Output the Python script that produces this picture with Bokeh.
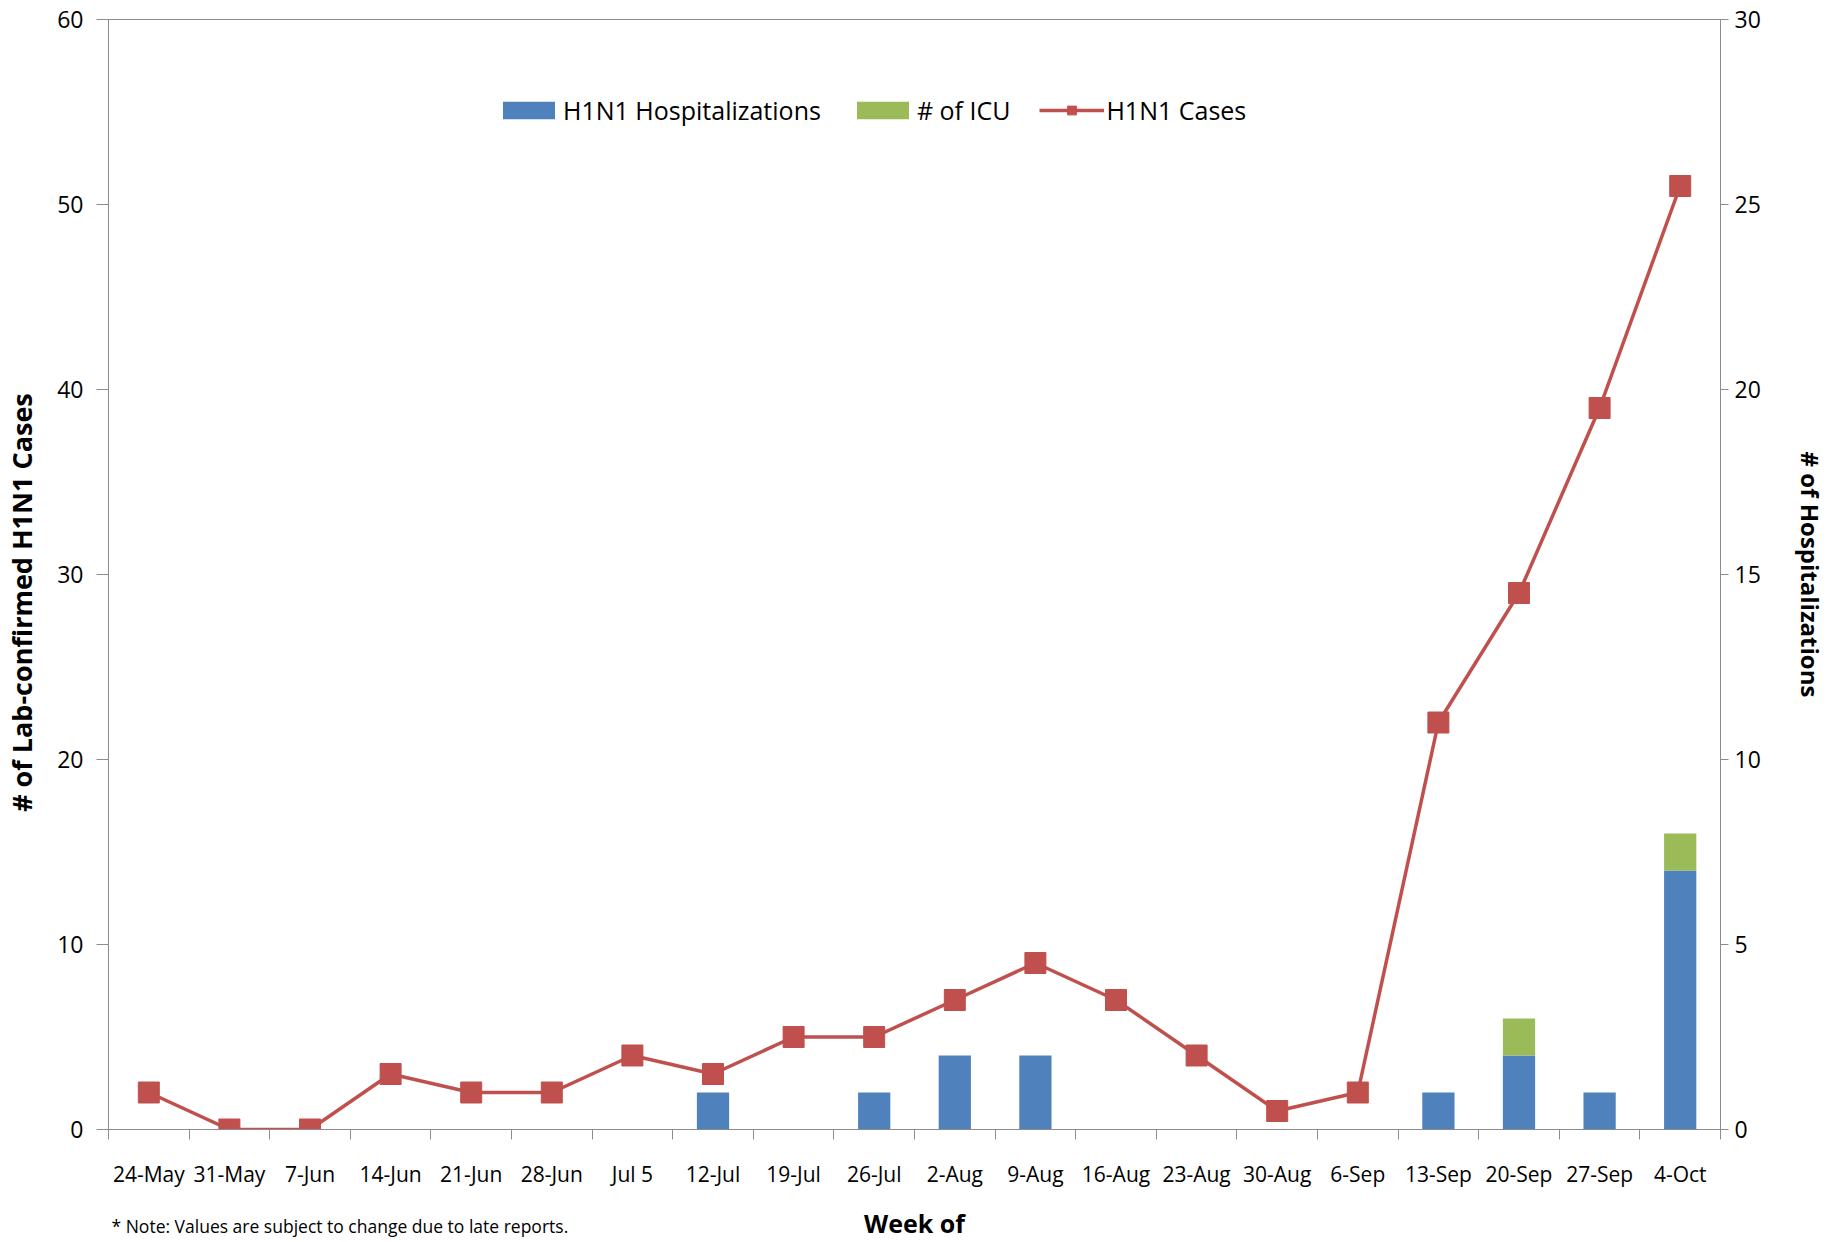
from bokeh.plotting import figure
from bokeh.models import (Range1d, LinearAxis, FixedTicker, Legend, LegendItem,
                          Title, ColumnDataSource)
from bokeh.embed import file_html
from bokeh.resources import INLINE

# ---- data ----
weeks = ["24-May", "31-May", "7-Jun", "14-Jun", "21-Jun", "28-Jun", "Jul 5",
         "12-Jul", "19-Jul", "26-Jul", "2-Aug", "9-Aug", "16-Aug", "23-Aug",
         "30-Aug", "6-Sep", "13-Sep", "20-Sep", "27-Sep", "4-Oct"]
cases = [2, 0, 0, 3, 2, 2, 4, 3, 5, 5, 7, 9, 7, 4, 1, 2, 22, 29, 39, 51]
hospitalizations = [0, 0, 0, 0, 0, 0, 0, 1, 0, 1, 2, 2, 0, 0, 0, 0, 1, 2, 1, 7]
icu = [0, 0, 0, 0, 0, 0, 0, 0, 0, 0, 0, 0, 0, 0, 0, 0, 0, 1, 0, 1]
left_ticks = [0, 10, 20, 30, 40, 50, 60]
right_ticks = [0, 5, 10, 15, 20, 25, 30]

FONT = "Open Sans"
GRAY = "#8c8c8c"
BLUE = "#4F81BD"
GREEN = "#9BBB59"
RED = "#C0504D"

xs = list(range(len(weeks)))
src = ColumnDataSource(dict(x=xs, week=weeks, cases=cases,
                            hosp=hospitalizations, icu=icu))

p = figure(width=1837, height=1242, output_backend="svg", toolbar_location=None,
           x_range=Range1d(-0.5, len(weeks) - 0.5), y_range=Range1d(0, 60),
           x_axis_type=None, y_axis_type=None,
           min_border_left=107, min_border_right=117, min_border_top=19,
           min_border_bottom=111)
p.extra_y_ranges = {"hosp": Range1d(0, 30)}
p.outline_line_color = GRAY
p.background_fill_color = "white"
p.border_fill_color = "white"

# x axis: labels at category centres, tick marks at category boundaries
xaxis = LinearAxis(ticker=FixedTicker(ticks=xs,
                                      minor_ticks=[i - 0.5 for i in range(len(weeks) + 1)]))
xaxis.major_label_overrides = {i: w for i, w in enumerate(weeks)}
xaxis.major_tick_out = 0
xaxis.major_tick_in = 0
xaxis.minor_tick_out = 10
xaxis.minor_tick_in = 0
xaxis.minor_tick_line_color = GRAY
xaxis.axis_line_color = GRAY
xaxis.major_label_standoff = 20
xaxis.major_label_text_font = FONT
xaxis.major_label_text_font_size = "21px"
xaxis.major_label_text_color = "black"
xaxis.axis_label = "Week of"
xaxis.axis_label_text_font = FONT
xaxis.axis_label_text_font_size = "25px"
xaxis.axis_label_text_font_style = "bold"
xaxis.axis_label_text_color = "black"
xaxis.axis_label_standoff = 15
p.add_layout(xaxis, "below")

yaxis = LinearAxis(ticker=FixedTicker(ticks=left_ticks))
yaxis.major_tick_out = 12
yaxis.major_tick_in = 0
yaxis.minor_tick_line_color = None
yaxis.major_tick_line_color = GRAY
yaxis.axis_line_color = GRAY
yaxis.major_label_standoff = 13
yaxis.major_label_text_font = FONT
yaxis.major_label_text_font_size = "23px"
yaxis.major_label_text_color = "black"
yaxis.axis_label = "# of Lab-confirmed H1N1 Cases" + "\u00a0" * 8
yaxis.axis_label_text_font = FONT
yaxis.axis_label_text_font_size = "27px"
yaxis.axis_label_text_font_style = "bold"
yaxis.axis_label_text_color = "black"
yaxis.axis_label_standoff = 14
p.add_layout(yaxis, "left")

raxis = LinearAxis(y_range_name="hosp", ticker=FixedTicker(ticks=right_ticks))
raxis.major_tick_out = 8
raxis.major_tick_in = 0
raxis.minor_tick_line_color = None
raxis.major_tick_line_color = GRAY
raxis.axis_line_color = GRAY
raxis.major_label_standoff = 6
raxis.major_label_text_font = FONT
raxis.major_label_text_font_size = "23px"
raxis.major_label_text_color = "black"
raxis.axis_label = "# of Hospitalizations"
raxis.axis_label_text_font = FONT
raxis.axis_label_text_font_size = "24px"
raxis.axis_label_text_font_style = "bold"
raxis.axis_label_text_color = "black"
raxis.axis_label_standoff = 30
p.add_layout(raxis, "right")

p.ygrid.ticker = FixedTicker(ticks=left_ticks)
p.ygrid.grid_line_color = GRAY
p.ygrid.grid_line_width = 1
p.xgrid.visible = False

# bars (right axis)
bars = p.vbar_stack(["hosp", "icu"], x="x", width=0.4, source=src,
                    fill_color=[BLUE, GREEN], line_color=None,
                    y_range_name="hosp")

# cases line (left axis)
ln = p.line("x", "cases", source=src, line_color=RED, line_width=3.5)
mk = p.scatter("x", "cases", source=src, marker="square", size=21,
               fill_color=RED, line_color=RED)

legend = Legend(items=[
    LegendItem(label="H1N1 Hospitalizations", renderers=[bars[0]]),
    LegendItem(label="# of ICU", renderers=[bars[1]]),
    LegendItem(label="H1N1 Cases", renderers=[ln, mk]),
], orientation="horizontal", location=(388, 1002))
legend.border_line_color = None
legend.background_fill_alpha = 0
legend.padding = 0
legend.margin = 0
legend.spacing = 29
legend.label_standoff = 2
legend.glyph_width = 65
legend.glyph_height = 22
legend.label_text_font = FONT
legend.label_text_font_size = "25px"
legend.label_text_color = "black"
p.add_layout(legend)

note = Title(text="* Note: Values are subject to change due to late reports.",
             align="left", offset=3, standoff=-58, vertical_align="top",
             text_font=FONT, text_font_size="17.5px", text_font_style="normal",
             text_color="black")
p.add_layout(note, "below")

open("out.html", "w").write(file_html(p, INLINE))
